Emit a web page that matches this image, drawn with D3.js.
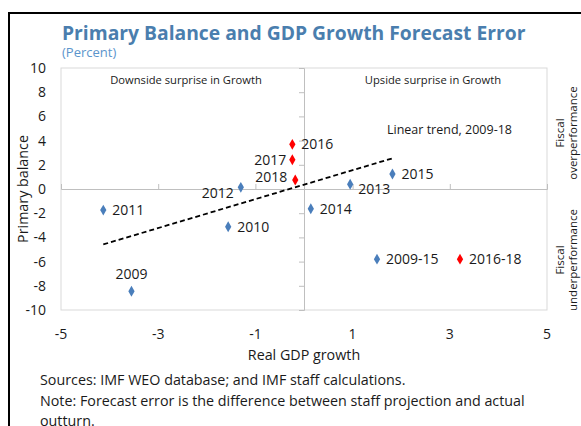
<!DOCTYPE html>
<html>
<head>
<meta charset="utf-8">
<script src="https://cdn.jsdelivr.net/npm/d3@7"></script>
<style>
  body { margin: 0; background: #fff; }
  text { font-family: "Open Sans", sans-serif; }
</style>
</head>
<body>
<svg id="chart" width="581" height="426"></svg>
<script>
// data
var years = ["2009", "2010", "2011", "2012", "2013", "2014", "2015", "2016", "2017", "2018"];
var growthErr = [-3.55, -1.56, -4.13, -1.30, 0.95, 0.14, 1.82, -0.24, -0.24, -0.18];
var balanceErr = [-8.45, -3.12, -1.74, 0.14, 0.39, -1.63, 1.24, 3.69, 2.42, 0.74];
var period = ["a", "a", "a", "a", "a", "a", "a", "b", "b", "b"];
var xTicks = [-5, -3, -1, 1, 3, 5];
var yTicks = [-10, -8, -6, -4, -2, 0, 2, 4, 6, 8, 10];
var legendNames = ["2009-15", "2016-18"];
var colors = { a: "#4a7ebb", b: "#ff0000" };

var svg = d3.select("#chart");

// outer frame
svg.append("path").attr("d", "M9,430 L9,13 L590,13").attr("fill", "none")
  .attr("stroke", "#000").attr("stroke-width", 2);

var x = d3.scaleLinear().domain([-5, 5]).range([61, 547]);
var y = d3.scaleLinear().domain([-10, 10]).range([310, 68]);

svg.append("text").attr("x", 62).attr("y", 40).text("Primary Balance and GDP Growth Forecast Error")
  .style("font-size", "19.3px").style("font-weight", "bold").style("fill", "#4a7eae");
svg.append("text").attr("x", 62).attr("y", 57).text("(Percent)")
  .style("font-size", "13px").style("fill", "#5b95cc");

// plot border
svg.append("rect").attr("x", x(-5)).attr("y", y(10)).attr("width", x(5) - x(-5)).attr("height", y(-10) - y(10))
  .attr("fill", "none").attr("stroke", "#d9d9d9");

// axes crossing at zero
var xAxis = svg.append("g").attr("transform", "translate(0," + y(0) + ")")
  .call(d3.axisTop(x).tickValues(xTicks).tickSize(5).tickFormat(""));
var yAxis = svg.append("g").attr("transform", "translate(" + x(0) + ",0)")
  .call(d3.axisLeft(y).tickValues(yTicks).tickSize(5).tickFormat(""));
[xAxis, yAxis].forEach(function(g) {
  g.select(".domain").attr("stroke", "#bfbfbf");
  g.selectAll(".tick line").attr("stroke", "#bfbfbf");
});

// tick labels on the frame
svg.selectAll(".xl").data(xTicks).enter().append("text")
  .attr("x", function(d) { return x(d); }).attr("y", 339).attr("text-anchor", "middle")
  .style("font-size", "14px").style("fill", "#1a1a1a").text(function(d) { return d; });
svg.selectAll(".yl").data(yTicks).enter().append("text")
  .attr("x", 46).attr("y", function(d) { return y(d) + 5; }).attr("text-anchor", "end")
  .style("font-size", "14px").style("fill", "#1a1a1a").text(function(d) { return d; });

svg.append("text").attr("x", x(0)).attr("y", 360).attr("text-anchor", "middle")
  .style("font-size", "14.3px").style("fill", "#1a1a1a").text("Real GDP growth");
svg.append("text").attr("transform", "translate(28," + y(0) + ") rotate(-90)").attr("text-anchor", "middle")
  .style("font-size", "14.3px").style("fill", "#1a1a1a").text("Primary balance");

svg.append("text").attr("x", 186).attr("y", 84).attr("text-anchor", "middle")
  .style("font-size", "11.2px").style("fill", "#1a1a1a").text("Downside surprise in Growth");
svg.append("text").attr("x", 433).attr("y", 84).attr("text-anchor", "middle")
  .style("font-size", "11.2px").style("fill", "#1a1a1a").text("Upside surprise in Growth");

// fiscal side labels
[["Fiscal", "overperformance", 133], ["Fiscal", "underperformance", 260]].forEach(function(f) {
  var t = svg.append("text").attr("transform", "translate(564," + f[2] + ") rotate(-90)")
    .attr("text-anchor", "middle").style("font-size", "11.5px").style("fill", "#1a1a1a");
  t.append("tspan").attr("x", 0).attr("dy", 0).text(f[0]);
  t.append("tspan").attr("x", 0).attr("dy", 12.5).text(f[1]);
});

// linear trend from the points
var pts = years.map(function(yr, i) { return { year: yr, gx: growthErr[i], pb: balanceErr[i], p: period[i] }; });
var mx = d3.mean(pts, function(d) { return d.gx; });
var my = d3.mean(pts, function(d) { return d.pb; });
var slope = d3.sum(pts, function(d) { return (d.gx - mx) * (d.pb - my); }) /
  d3.sum(pts, function(d) { return (d.gx - mx) * (d.gx - mx); });
var icpt = my - slope * mx;
var ext = d3.extent(pts, function(d) { return d.gx; });
svg.append("line")
  .attr("x1", x(ext[0])).attr("y1", y(icpt + slope * ext[0]))
  .attr("x2", x(ext[1])).attr("y2", y(icpt + slope * ext[1]))
  .attr("stroke", "#000").attr("stroke-width", 1.8).attr("stroke-dasharray", "5,3");
svg.append("text").attr("x", 387).attr("y", 134)
  .style("font-size", "12.5px").style("fill", "#1a1a1a").text("Linear trend, 2009-18");

var diamond = d3.symbol().type(d3.symbolDiamond).size(34);
svg.selectAll(".pt").data(pts).enter().append("path")
  .attr("d", diamond)
  .attr("transform", function(d) { return "translate(" + x(d.gx) + "," + y(d.pb) + ")"; })
  .attr("fill", function(d) { return colors[d.p]; });

// label placement per point
var lab = {
  "2009": [0, -12, "middle"], "2010": [9, 5, "start"], "2011": [9, 5, "start"],
  "2012": [-7, 11, "end"], "2013": [8, 10, "start"], "2014": [9, 5, "start"],
  "2015": [9, 5, "start"], "2016": [9, 5, "start"], "2017": [-6, 5, "end"], "2018": [-8, 2, "end"]
};
svg.selectAll(".pl").data(pts).enter().append("text")
  .attr("x", function(d) { return x(d.gx) + lab[d.year][0]; })
  .attr("y", function(d) { return y(d.pb) + lab[d.year][1]; })
  .attr("text-anchor", function(d) { return lab[d.year][2]; })
  .style("font-size", "14px").style("fill", "#1a1a1a").text(function(d) { return d.year; });

// legend inside plot
var leg = svg.selectAll(".lg").data(legendNames).enter().append("g")
  .attr("transform", function(d, i) { return "translate(" + (377 + i * 83) + "," + y(-5.8) + ")"; });
leg.append("path").attr("d", diamond).attr("fill", function(d, i) { return i ? colors.b : colors.a; });
leg.append("text").attr("x", 9).attr("y", 5).style("font-size", "14px").style("fill", "#1a1a1a")
  .text(function(d) { return d; });

// footnotes
var notes = ["Sources: IMF WEO database; and IMF staff calculations.",
  "Note: Forecast error is the difference between staff projection and actual",
  "outturn."];
svg.selectAll(".fn").data(notes).enter().append("text")
  .attr("x", 40).attr("y", function(d, i) { return 385 + i * 20.5; })
  .style("font-size", "14.3px").style("fill", "#1a1a1a").text(function(d) { return d; });
</script>
</body>
</html>
